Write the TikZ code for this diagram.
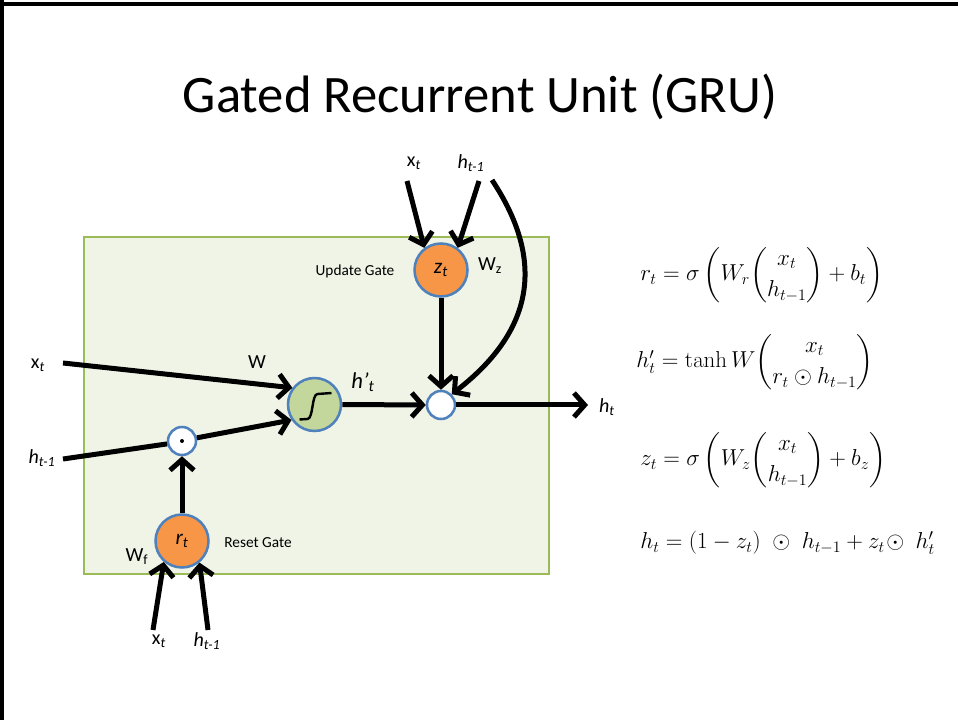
\documentclass[tikz,border=0pt]{standalone}
\usepackage{amsmath}
\usepackage[no-math]{fontspec}
\setmainfont{Carlito}
\usetikzlibrary{arrows.meta}
\definecolor{boxfill}{HTML}{EFF4E7}
\definecolor{boxline}{HTML}{9BBB59}
\definecolor{gorange}{HTML}{F79646}
\definecolor{gblue}{HTML}{4F81BD}
\definecolor{tanhfill}{HTML}{C3D69B}
\tikzset{
  arr/.style={line width=3.75pt,-{Straight Barb[length=8pt,width=18pt,line width=3.75pt]}},
  plain/.style={line width=3.75pt},
  gate/.style={circle,draw=gblue,line width=1.9pt,fill=gorange,minimum size=39.75pt,inner sep=0pt,font=\fontsize{16}{18}\selectfont\itshape},
  tanhnode/.style={circle,draw=gblue,line width=1.9pt,fill=tanhfill,minimum size=39.75pt,inner sep=0pt},
  opnode/.style={circle,draw=gblue,line width=1.9pt,fill=white,minimum size=21pt,inner sep=0pt},
  lbl/.style={font=\fontsize{15}{17}\selectfont,inner sep=0pt},
  small/.style={font=\fontsize{11.5}{13}\selectfont,inner sep=0pt},
  eq/.style={anchor=west,inner sep=0pt,font=\fontsize{18}{21}\selectfont}
}
\begin{document}
\begin{tikzpicture}[x=0.75pt,y=-0.75pt]
\useasboundingbox (0,0) rectangle (958,720);
% frame
\draw[line width=2.7pt] (0,4) -- (958,4);
\draw[line width=2.7pt] (2,0) -- (2,720);
% title
\node[inner sep=0pt] (title) at (480,97) {\fontsize{39.5}{45}\selectfont Gated Recurrent Unit (GRU)};
% green box
\draw[draw=boxline,fill=boxfill,line width=1.6pt] (84,237) rectangle (549,574);
% nodes
\node[gate] (z) at (441,270) {z\textsubscript{t}};
\node[gate] (r) at (182,541) {r\textsubscript{t}};
\node[tanhnode] (t) at (314.5,404.5) {};
\node[opnode] (w) at (441,405) {};
\node[opnode] (d) at (182,441) {};
\fill (d.center) circle (1.5pt);
\begin{scope}[shift={(t.center)}]
\draw[line width=1.8pt] (-15,15) -- (-7,14.5) .. controls (-1,14) and (-3,-10) .. (3,-10.5) -- (17,-11.5);
\end{scope}
% labels
\node[small] (ug) at (355,271) {Update Gate};
\node[small] (rg) at (258,543) {Reset Gate};
\node[lbl] (wz) at (490,266) {W\textsubscript{z}};
\node[lbl] (wf) at (137,557) {W\textsubscript{f}};
\node[lbl] (wl) at (257,362) {W};
\node[lbl] (xtop) at (414,163) {x\textsubscript{\textit{t}}};
\node[lbl] (htop) at (471,163) {\textit{h\textsubscript{t-1}}};
\node[lbl] (xleft) at (38,365) {x\textsubscript{\textit{t}}};
\node[lbl] (hleft) at (42,458) {\textit{h\textsubscript{t-1}}};
\node[lbl] (xbot) at (159,641) {x\textsubscript{\textit{t}}};
\node[lbl] (hbot) at (207,641) {\textit{h\textsubscript{t-1}}};
\node[lbl] (hp) at (363,382) {\fontsize{17}{19}\selectfont\textit{h’\textsubscript{t}}};
\node[lbl] (ht) at (607,407) {\textit{h\textsubscript{t}}};
% connector start points
\coordinate (sxz) at (407,181);
\coordinate (shz) at (479,181);
\coordinate (shc) at (492,180);
\coordinate (sxl) at (63,363);
\coordinate (shl) at (63,459);
\coordinate (sxb) at (153,630);
\coordinate (shb) at (208,630);
\coordinate (eout) at (588,405);
% connectors
\draw[arr] (sxz) -- (z.127);
\draw[arr] (shz) -- (z.53);
\draw[arr] (shc) .. controls (535,245) and (548,320) .. (w.45);
\draw[arr] (z.south) -- (w.north);
\draw[arr] (t.east) -- (w.west);
\draw[arr] (w.east) -- (eout);
\draw[arr] (sxl) -- (t.143);
\draw[plain] (shl) -- (d.191);
\draw[arr] (d.12) -- (t.214);
\draw[arr] (r.north) -- (d.south);
\draw[arr] (sxb) -- (r.229);
\draw[arr] (shb) -- (r.309);
% equations
\node[eq] (e1) at (640,275) {$r_t = \sigma\left(W_r \dbinom{x_t}{h_{t-1}} + b_t\right)$};
\node[eq] (e2) at (636,362) {$h'_t = \tanh W \dbinom{x_t}{r_t \odot h_{t-1}}$};
\node[eq] (e3) at (640,460) {$z_t = \sigma\left(W_z \dbinom{x_t}{h_{t-1}} + b_z\right)$};
\node[eq] (e4) at (640,543) {$h_t = (1 - z_t)\; \odot\; h_{t-1} + z_t\!\odot\; h'_t$};
\end{tikzpicture}
\end{document}
